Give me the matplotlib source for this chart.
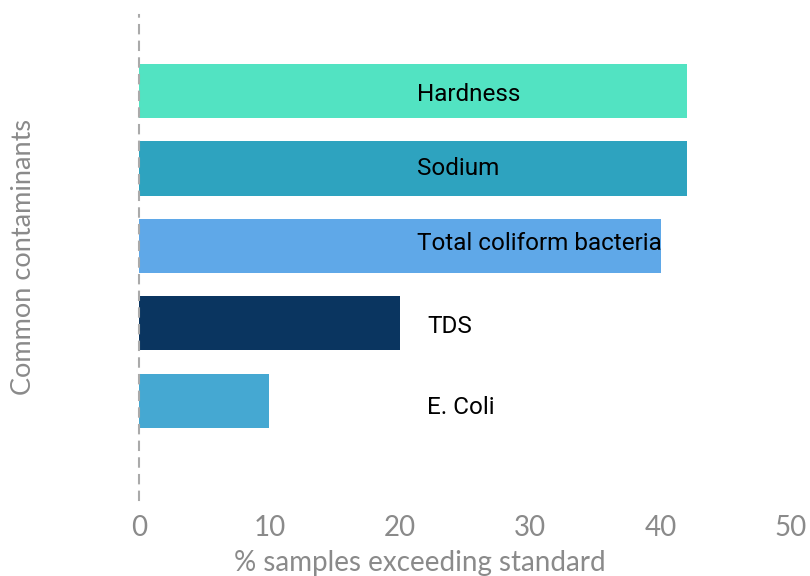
import matplotlib
matplotlib.use("Agg")
import matplotlib.pyplot as plt

categories = ["Hardness", "Sodium", "Total coliform bacteria", "TDS", "E. Coli"]
values = [42, 42, 40, 20, 10]
colors = ["#52E3C2", "#2EA3BF", "#5FA8E8", "#0A3560", "#45A8D2"]
xticks = [0, 10, 20, 30, 40, 50]
label_x = [21.3, 21.3, 21.3, 22.1, 22.1]
label_dy = [0.04, 0.0, -0.03, 0.04, 0.08]

GRAY = "#8a8a8a"
fig = plt.figure(figsize=(8.1, 5.76), dpi=100)
ax = fig.add_axes([139/810, 1-500/576, (791-139)/810, (500-15)/576])

ypos = list(range(len(categories)))
ax.barh(ypos, values, height=0.7, color=colors)
for i, name in enumerate(categories):
    ax.text(label_x[i], ypos[i] + label_dy[i], name, ha="left", va="center",
            fontsize=17.5, family=["Roboto", "DejaVu Sans"], color="black")

ax.set_xlim(0, 50)
ax.set_ylim(5.28, -0.98)
ax.set_xticks(xticks)
ax.set_xticklabels([str(t) for t in xticks], fontsize=20, color=GRAY,
                   family=["Lato", "DejaVu Sans"])
ax.set_yticks([])
ax.tick_params(axis="x", length=0, pad=11)
for s in ["top", "right", "bottom"]:
    ax.spines[s].set_visible(False)
ax.spines["left"].set_linestyle((0, (4, 4)))
ax.spines["left"].set_color("#aaaaaa")
ax.spines["left"].set_linewidth(1.5)

ax.set_xlabel("% samples exceeding standard", fontsize=20, color=GRAY,
              family=["Lato", "DejaVu Sans"])
ax.xaxis.set_label_coords((420-139)/652, -(550-500)/485)
ax.set_ylabel("Common contaminants", fontsize=19.5, color=GRAY,
              family=["Lato", "DejaVu Sans"])
ax.yaxis.set_label_coords((36-139)/652, (500-257)/485)

fig.savefig("out.png", dpi=100)
